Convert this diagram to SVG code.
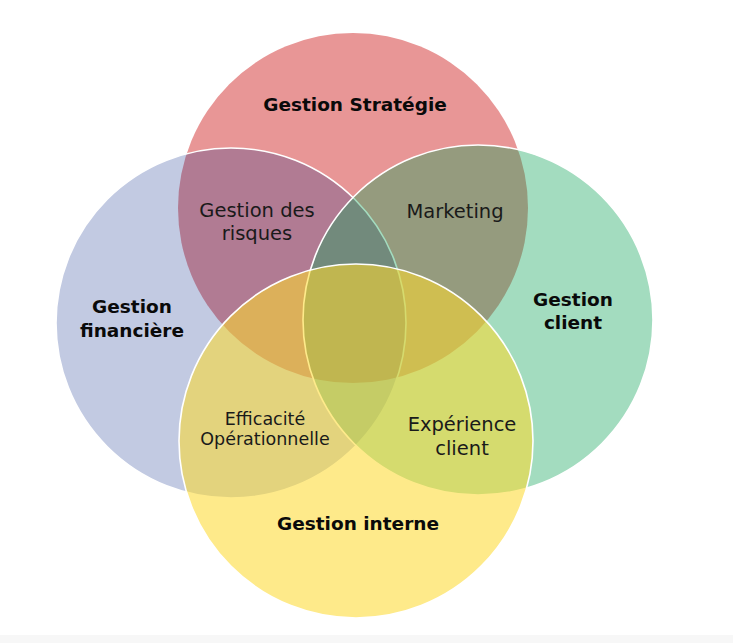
<svg xmlns="http://www.w3.org/2000/svg" width="733" height="643" viewBox="0 0 733 643">
  <style>
    .bold { font-family: "DejaVu Sans", "Liberation Sans", sans-serif; font-weight: 700; font-size: 18.5px; fill: #0a0a0a; text-anchor: middle; }
    .reg { font-family: "DejaVu Sans", "Liberation Sans", sans-serif; font-weight: 400; font-size: 19.5px; fill: #1a1a1a; text-anchor: middle; }
    .small { font-size: 17.5px; }
    .edge { stroke: #ffffff; stroke-width: 1.6; }
  </style>
  <rect x="0" y="0" width="733" height="643" fill="#ffffff"/>
  <rect x="0" y="635" width="733" height="8" fill="#f7f7f7"/>
  <g id="circles">
    <g id="strategie"><circle cx="353" cy="208" r="175" fill="#E89696"/></g>
    <g id="financiere"><circle class="edge" cx="231" cy="323" r="175" fill="#0C2C8C" fill-opacity="0.25"/></g>
    <g id="client"><circle class="edge" cx="478" cy="320" r="175" fill="#0DA357" fill-opacity="0.38"/></g>
    <g id="interne"><circle class="edge" cx="356" cy="441" r="177" fill="#FDDA2E" fill-opacity="0.56"/></g>
  </g>
  <g id="labels">
    <text class="bold" x="355" y="111">Gestion Stratégie</text>
    <text class="bold" x="132" y="313">Gestion</text>
    <text class="bold" x="132" y="337">financière</text>
    <text class="bold" x="573" y="306">Gestion</text>
    <text class="bold" x="573" y="329">client</text>
    <text class="bold" x="358" y="530">Gestion interne</text>
    <text class="reg" x="257" y="217">Gestion des</text>
    <text class="reg" x="257" y="240">risques</text>
    <text class="reg" x="455" y="218">Marketing</text>
    <text class="reg small" x="265" y="425">Efficacité</text>
    <text class="reg small" x="265" y="445">Opérationnelle</text>
    <text class="reg" x="462" y="431">Expérience</text>
    <text class="reg" x="462" y="455">client</text>
  </g>
</svg>
